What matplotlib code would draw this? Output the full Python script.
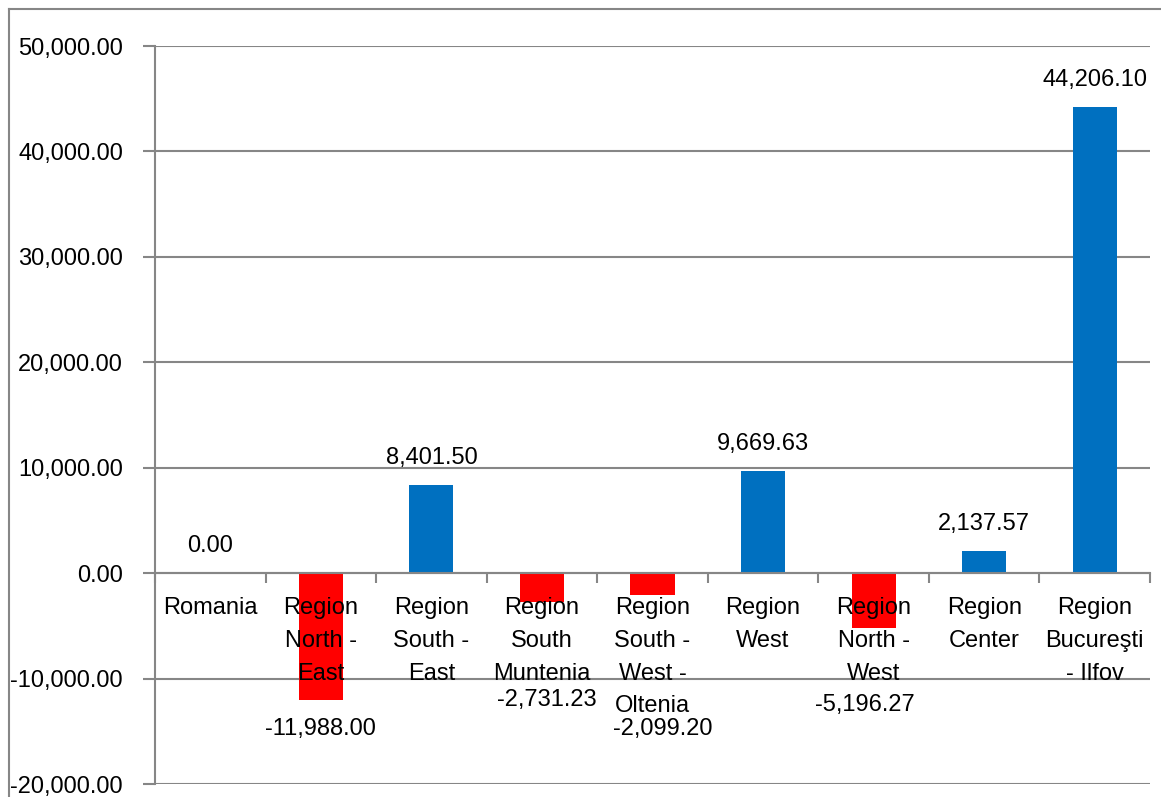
import matplotlib.pyplot as plt
from matplotlib.lines import Line2D
from matplotlib.ticker import FuncFormatter, MultipleLocator

regions = ['Romania', 'Region\nNorth -\nEast', 'Region\nSouth -\nEast', 'Region\nSouth\nMuntenia',
           'Region\nSouth -\nWest -\nOltenia', 'Region\nWest', 'Region\nNorth -\nWest',
           'Region\nCenter', 'Region\nBucureşti\n- Ilfov']
values = [0.00, -11988.00, 8401.50, -2731.23, -2099.20, 9669.63, -5196.27, 2137.57, 44206.10]

# label offsets (px) for the negative values, as Excel placed them
neg_offsets = {1: (0, -29), 3: (5, -98), 4: (10, -134), 6: (-9, -77)}

plt.rcParams['font.family'] = ['Liberation Sans', 'DejaVu Sans']
fig = plt.figure(figsize=(11.61, 7.97), dpi=100)
ax = fig.add_axes([155 / 1161, 1 - 784 / 797, (1150 - 155) / 1161, (784 - 46) / 797])

grey = '#868686'
colors = ['#0070C0' if v >= 0 else '#FF0000' for v in values]
x = list(range(len(values)))
ax.set_axisbelow(True)
ax.bar(x, values, width=0.4, color=colors, zorder=3)

ax.set_xlim(-0.5, len(values) - 0.5)
ax.set_ylim(-20000, 50000)
ax.yaxis.set_major_locator(MultipleLocator(10000))
ax.yaxis.set_major_formatter(FuncFormatter(lambda v, p: '{:,.2f}'.format(v)))
ax.grid(axis='y', color=grey, linewidth=1.5)

for s in ['top', 'right']:
    ax.spines[s].set_visible(False)
ax.spines['left'].set_color(grey)
ax.spines['left'].set_linewidth(1.5)
ax.spines['bottom'].set_position(('data', 0))
ax.spines['bottom'].set_color(grey)
ax.spines['bottom'].set_linewidth(1.5)
ax.spines['bottom'].set_zorder(4)

# category labels drawn as text so they sit on top of the bars
ax.set_xticks([i + 0.5 for i in x[:-1]] + [-0.5, len(x) - 0.5])
ax.set_xticklabels([])
ax.tick_params(axis='x', length=7, width=1.5, color=grey)
ax.tick_params(axis='y', length=9, width=1.5, color=grey, labelsize=17, pad=14)
for i, name in enumerate(regions):
    ax.annotate(name, (i, 0), xytext=(0, -17), textcoords='offset points', ha='center',
                va='top', fontsize=17, linespacing=1.64, zorder=5)

for i, v in enumerate(values):
    if v >= 0:
        dx, dy = 0, 27
    else:
        dx, dy = neg_offsets[i]
    ax.annotate('{:,.2f}'.format(v), (i, v), xytext=(dx * 0.72, dy * 0.72),
                textcoords='offset points', ha='center', va='center', fontsize=17, zorder=5)

# outer chart frame
fig.add_artist(Line2D([9 / 1161, 9 / 1161], [0, 1 - 9 / 797], color=grey, linewidth=1.5))
fig.add_artist(Line2D([9 / 1161, 1], [1 - 9 / 797, 1 - 9 / 797], color=grey, linewidth=1.5))

fig.savefig('out.png', dpi=100)
